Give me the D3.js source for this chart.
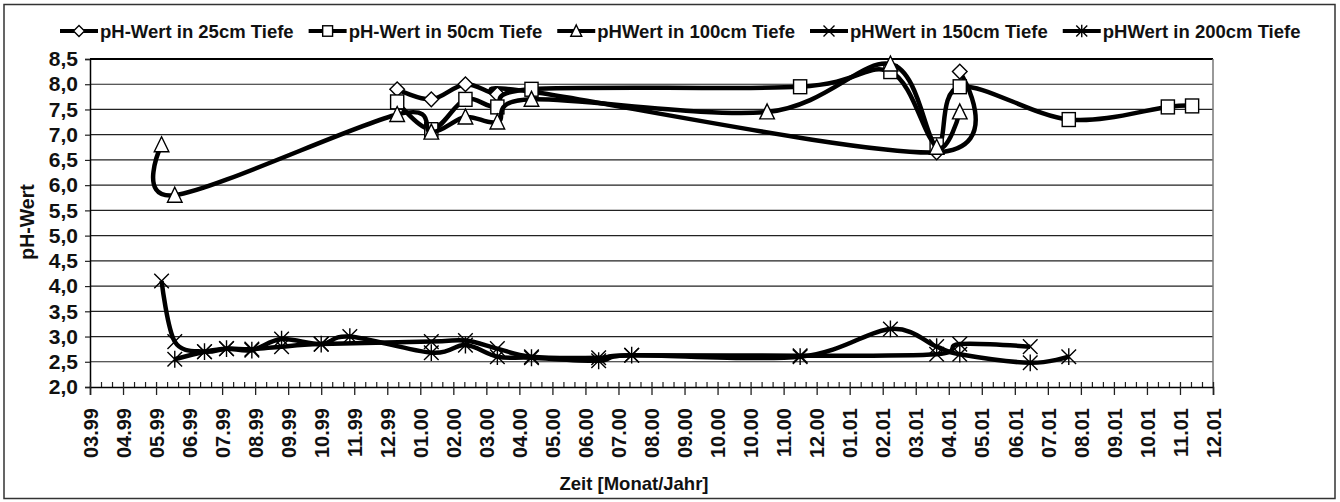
<!DOCTYPE html>
<html>
<head>
<meta charset="utf-8">
<script src="https://cdn.jsdelivr.net/npm/d3@7.9.0/dist/d3.min.js"></script>
<style>
  body { margin: 0; background: #fff; }
  svg { display: block; font-family: "Liberation Sans", Arial, sans-serif; font-weight: bold; }
</style>
</head>
<body>
<svg id="chart" width="1340" height="502"></svg>
<script>
const ph25 = [
  ['1999-12-15', 7.9], ['2000-01-15', 7.7], ['2000-02-15', 8.0], ['2000-03-15', 7.8],
  ['2000-04-15', 7.85], ['2001-04-18', 6.65], ['2001-05-09', 8.25]
];
const ph50 = [
  ['1999-12-15', 7.65], ['2000-01-15', 7.1], ['2000-02-15', 7.7], ['2000-03-15', 7.55],
  ['2000-04-15', 7.9], ['2000-12-15', 7.95], ['2001-03-07', 8.25], ['2001-04-18', 6.8],
  ['2001-05-09', 7.95], ['2001-08-16', 7.3], ['2001-11-14', 7.55], ['2001-12-06', 7.57]
];
const ph100 = [
  ['1999-05-15', 6.8], ['1999-05-27', 5.8], ['1999-12-15', 7.4], ['2000-01-15', 7.05],
  ['2000-02-15', 7.35], ['2000-03-15', 7.25], ['2000-04-15', 7.7], ['2000-11-15', 7.45],
  ['2001-03-07', 8.4], ['2001-04-18', 6.75], ['2001-05-09', 7.45]
];
const ph150 = [
  ['1999-05-15', 4.1], ['1999-05-27', 2.9], ['1999-06-23', 2.7], ['1999-07-13', 2.76],
  ['1999-08-05', 2.75], ['1999-09-01', 2.8], ['1999-10-07', 2.85], ['2000-01-15', 2.9],
  ['2000-02-15', 2.92], ['2000-03-15', 2.76], ['2000-04-15', 2.6], ['2000-06-15', 2.58],
  ['2000-07-15', 2.63], ['2000-12-15', 2.62], ['2001-04-18', 2.65], ['2001-05-09', 2.85],
  ['2001-07-12', 2.8]
];
const ph200 = [
  ['1999-05-27', 2.55], ['1999-06-23', 2.7], ['1999-07-13', 2.76], ['1999-08-05', 2.73],
  ['1999-09-01', 2.95], ['1999-10-07', 2.85], ['1999-11-02', 3.0], ['2000-01-15', 2.68],
  ['2000-02-15', 2.83], ['2000-03-15', 2.6], ['2000-04-15', 2.58], ['2000-06-15', 2.52],
  ['2000-07-15', 2.63], ['2000-12-15', 2.6], ['2001-03-07', 3.15], ['2001-04-18', 2.8],
  ['2001-05-09', 2.65], ['2001-07-12', 2.48], ['2001-08-16', 2.6]
];

const seriesNames = ['pH-Wert in 25cm Tiefe', 'pH-Wert in 50cm Tiefe', 'pHWert in 100cm Tiefe',
  'pHWert in 150cm Tiefe', 'pHWert in 200cm Tiefe'];
const seriesMarkers = ['diamond', 'square', 'triangle', 'cross', 'star'];

const yTicks = [2.0, 2.5, 3.0, 3.5, 4.0, 4.5, 5.0, 5.5, 6.0, 6.5, 7.0, 7.5, 8.0, 8.5];
// excel date axis: first tick, major unit 30 days, minor unit 10 days, 34 major steps
const axisStart = '1999-03-11';
const majorDays = 30, minorDays = 10, majorSteps = 34;

// ---- layout ----
const svg = d3.select('#chart');
const plot = { left: 90, right: 1213, top: 59, bottom: 387 };
const parse = d3.utcParse('%Y-%m-%d');
const start = parse(axisStart);

const x = d3.scaleUtc()
  .domain([start, d3.utcDay.offset(start, majorDays * majorSteps)])
  .range([plot.left, plot.right]);
const y = d3.scaleLinear().domain([2, 8.5]).range([plot.bottom, plot.top]);

const majorTicks = d3.range(0, majorDays * majorSteps + 1, majorDays).map(d => d3.utcDay.offset(start, d));
const minorTicks = d3.range(0, majorDays * majorSteps + 1, minorDays)
  .filter(d => d % majorDays !== 0).map(d => d3.utcDay.offset(start, d));

const yFmt = d => d3.format('.1f')(d).replace('.', ',');

// chart border
svg.append('rect')
  .attr('x', 4).attr('y', 4.5).attr('width', 1331).attr('height', 494)
  .attr('fill', '#fff').attr('stroke', '#333').attr('stroke-width', 1.5);

// gridlines
svg.append('g').selectAll('line')
  .data(yTicks.filter(v => v > 2 && v < 8.5))
  .join('line')
  .attr('x1', plot.left).attr('x2', plot.right)
  .attr('y1', d => y(d)).attr('y2', d => y(d))
  .attr('stroke', '#222').attr('stroke-width', 1.2);

// plot frame: top and right
svg.append('line').attr('x1', plot.left).attr('x2', plot.right)
  .attr('y1', plot.top).attr('y2', plot.top).attr('stroke', '#000').attr('stroke-width', 2);
svg.append('line').attr('x1', plot.right).attr('x2', plot.right)
  .attr('y1', plot.top).attr('y2', plot.bottom).attr('stroke', '#777').attr('stroke-width', 1.5);

// y axis
const yAxis = svg.append('g')
  .attr('transform', `translate(${plot.left},0)`)
  .call(d3.axisLeft(y).tickValues(yTicks).tickFormat(yFmt).tickSize(5).tickPadding(7));
yAxis.select('.domain').attr('stroke', '#000').attr('stroke-width', 1.5);
yAxis.selectAll('.tick line').attr('stroke', '#222').attr('stroke-width', 1.2);
yAxis.selectAll('text').attr('font-size', 21).attr('fill', '#111')
  .attr('font-family', '"Liberation Sans", Arial, sans-serif');

// x axis: minor ticks (inside), major ticks crossing
const xMinor = svg.append('g')
  .attr('transform', `translate(0,${plot.bottom})`)
  .call(d3.axisBottom(x).tickValues(minorTicks).tickSize(-5).tickFormat(''));
xMinor.select('.domain').remove();
xMinor.selectAll('.tick line').attr('stroke', '#222').attr('stroke-width', 1.2);

const xAxis = svg.append('g')
  .attr('transform', `translate(0,${plot.bottom})`)
  .call(d3.axisBottom(x).tickValues(majorTicks).tickFormat(d3.utcFormat('%m.%y')).tickSize(8));
xAxis.select('.domain').attr('stroke', '#000').attr('stroke-width', 1.5);
xAxis.selectAll('.tick line').attr('y1', -5).attr('stroke', '#222').attr('stroke-width', 1.3);
xAxis.selectAll('text')
  .attr('transform', 'rotate(-90)')
  .attr('x', -21).attr('y', 0).attr('dy', '0.36em')
  .attr('text-anchor', 'end')
  .attr('font-size', 20).attr('fill', '#111')
  .attr('font-family', '"Liberation Sans", Arial, sans-serif');

// axis titles
svg.append('text')
  .attr('transform', 'translate(34,222) rotate(-90)')
  .attr('text-anchor', 'middle').attr('font-size', 19.5).attr('fill', '#111')
  .text('pH-Wert');
svg.append('text')
  .attr('x', 634).attr('y', 490)
  .attr('text-anchor', 'middle').attr('font-size', 18.5).attr('fill', '#111')
  .text('Zeit [Monat/Jahr]');

// markers
function drawMarker(g, type, s) {
  const st = { stroke: '#000', 'stroke-width': 1.4 };
  let el;
  if (type === 'diamond') el = g.append('path').attr('d', `M0,${-s}L${s},0L0,${s}L${-s},0Z`).attr('fill', '#fff');
  if (type === 'square') el = g.append('rect').attr('x', -s * 0.9).attr('y', -s * 0.95).attr('width', s * 1.8).attr('height', s * 1.9).attr('fill', '#fff');
  if (type === 'triangle') el = g.append('path').attr('d', `M0,${-s * 1.1}L${s},${s * 0.95}L${-s},${s * 0.95}Z`).attr('fill', '#fff');
  if (type === 'cross' || type === 'star') {
    let d = `M${-s},${-s}L${s},${s}M${-s},${s}L${s},${-s}`;
    if (type === 'star') d += `M0,${-s * 1.15}L0,${s * 1.15}`;
    el = g.append('path').attr('d', d).attr('fill', 'none');
  }
  Object.entries(st).forEach(([k, v]) => el.attr(k, v));
}

const line = d3.line()
  .x(d => x(parse(d[0])))
  .y(d => y(d[1]))
  .curve(d3.curveCardinal.tension(0));

const allSeries = [ph25, ph50, ph100, ph150, ph200];

allSeries.forEach((data, i) => {
  const g = svg.append('g');
  g.append('path')
    .attr('d', line(data))
    .attr('fill', 'none').attr('stroke', '#000')
    .attr('stroke-width', 4.5).attr('stroke-linejoin', 'round');
  data.forEach(d => {
    const m = g.append('g').attr('transform', `translate(${x(parse(d[0]))},${y(d[1])})`);
    drawMarker(m, seriesMarkers[i], 7.3);
  });
});

// legend
let lx = 60;
const ly = 31;
seriesNames.forEach((name, i) => {
  const g = svg.append('g');
  g.append('line').attr('x1', lx).attr('x2', lx + 38).attr('y1', ly).attr('y2', ly)
    .attr('stroke', '#000').attr('stroke-width', 4);
  const m = g.append('g').attr('transform', `translate(${lx + 19},${ly})`);
  drawMarker(m, seriesMarkers[i], 5.5);
  const t = g.append('text').attr('x', lx + 40).attr('y', ly + 6.5)
    .attr('font-size', 18.5).attr('fill', '#111').text(name);
  lx += 40 + t.node().getComputedTextLength() + 15;
});
</script>
</body>
</html>
